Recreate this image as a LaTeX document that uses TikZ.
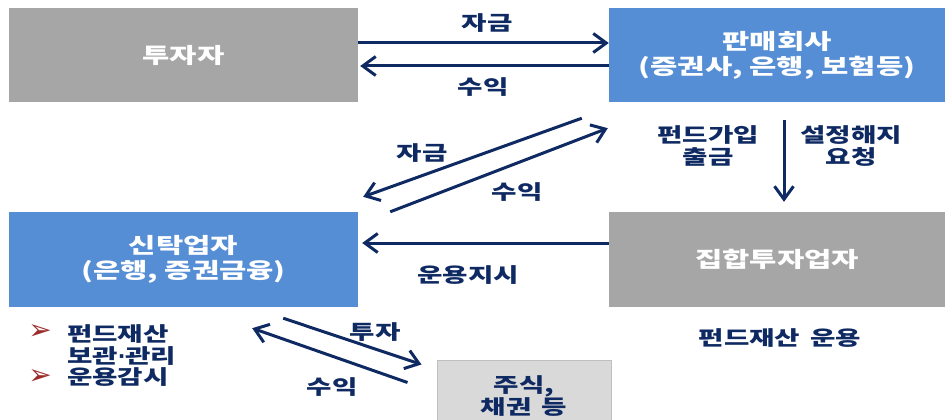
\documentclass[tikz,border=0pt]{standalone}
\usepackage{fontspec}
\setmainfont{Noto Sans CJK KR}[FakeStretch=1.38]
\newfontfamily\dejavu{DejaVu Sans}
\usetikzlibrary{arrows.meta}
\definecolor{boxgray}{HTML}{A6A6A6}
\definecolor{boxblue}{HTML}{558ED5}
\definecolor{navy}{HTML}{0F2A62}
\definecolor{lightbox}{HTML}{D9D9D9}
\definecolor{lightedge}{HTML}{BFBFBF}
\definecolor{bulletred}{HTML}{9C2B2B}
\begin{document}
\begin{tikzpicture}[x=1pt,y=-1pt,
  boxbase/.style={rectangle, inner sep=0pt, align=center, text=white,
    font=\bfseries\fontsize{21.5}{25}\selectfont},
  graybox/.style={boxbase, fill=boxgray},
  bluebox/.style={boxbase, fill=boxblue},
  lbl/.style={text=navy, font=\bfseries\fontsize{20}{22}\selectfont, align=center, inner sep=0pt},
  bullet/.style={text=bulletred, font=\dejavu\fontsize{28}{28}\selectfont, inner sep=0pt},
  arr/.style={draw=navy, line width=3pt, -{Straight Barb[length=13pt,width=19pt]}},
]
\useasboundingbox (0,0) rectangle (945,420);
\fill[white] (0,0) rectangle (945,420);

% boxes
\node[graybox, minimum width=349pt, minimum height=94pt] (inv) at (183.5,55) {투자자};
\node[bluebox, minimum width=336pt, minimum height=94pt] (sell) at (777,55) {판매회사\\(증권사, 은행, 보험등)};
\node[bluebox, minimum width=349pt, minimum height=95pt] (trust) at (183.5,259.5) {신탁업자\\(은행, 증권금융)};
\node[graybox, minimum width=336pt, minimum height=95pt] (mgr) at (777,259.5) {집합투자업자};
\node[rectangle, fill=lightbox, draw=lightedge, line width=1pt, minimum width=174pt, minimum height=72pt,
  inner sep=0pt, align=center, text=navy, font=\bfseries\fontsize{20}{22}\selectfont] (stock) at (524,396) {주식,\\채권\hspace{4pt} 등};

% top arrows
\draw[arr] ([yshift=12pt]inv.east) -- ([yshift=12pt]sell.west);
\draw[arr] ([yshift=-11pt]sell.west) -- ([yshift=-11pt,xshift=2pt]inv.east);
\node[lbl] (l1) at (487,23) {자금};
\node[lbl] (l2) at (483,87) {수익};

% diagonal arrows
\draw[arr] ([shift={(-27,16)}]sell.south west) -- ([shift={(5,-15)}]trust.north east);
\draw[arr] ([shift={(32,0)}]trust.north east) -- ([shift={(-1,26)}]sell.south west);
\node[lbl] (l3) at (422,153) {자금};
\node[lbl] (l4) at (517,192) {수익};

% vertical arrow
\draw[arr] ([shift={(7,18)}]sell.south) -- ([shift={(7,-10)}]mgr.north);
\node[lbl] (l5) at (708,146) {펀드가입\\출금};
\node[lbl] (l6) at (851,146) {설정해지\\요청};

% instruction arrow
\draw[arr] ([yshift=16.5pt]mgr.west) -- ([yshift=16.5pt,xshift=4pt]trust.east);
\node[lbl] (l7) at (468,275) {운용지시};
\node[lbl] (l8) at (780,338) {펀드재산\hspace{4pt} 운용};

% bottom arrows
\draw[arr] ([shift={(-75,11)}]trust.south east) -- ([shift={(-15,5)}]stock.north west);
\draw[arr] ([shift={(-29,23)}]stock.north west) -- ([shift={(-106,21)}]trust.south east);
\node[lbl] (l9) at (375,332) {투자};
\node[lbl] (l10) at (332,387) {수익};

% bullet list
\node[bullet] (b1) at (40,332) {➢};
\node[bullet] (b2) at (40,377) {➢};
\node[lbl, anchor=west, align=left, font=\bfseries\fontsize{20}{21.5}\selectfont] (blist) at (67,356) {펀드재산\\보관{\dejavu\bfseries ·}관리\\운용감시};
\end{tikzpicture}
\end{document}
